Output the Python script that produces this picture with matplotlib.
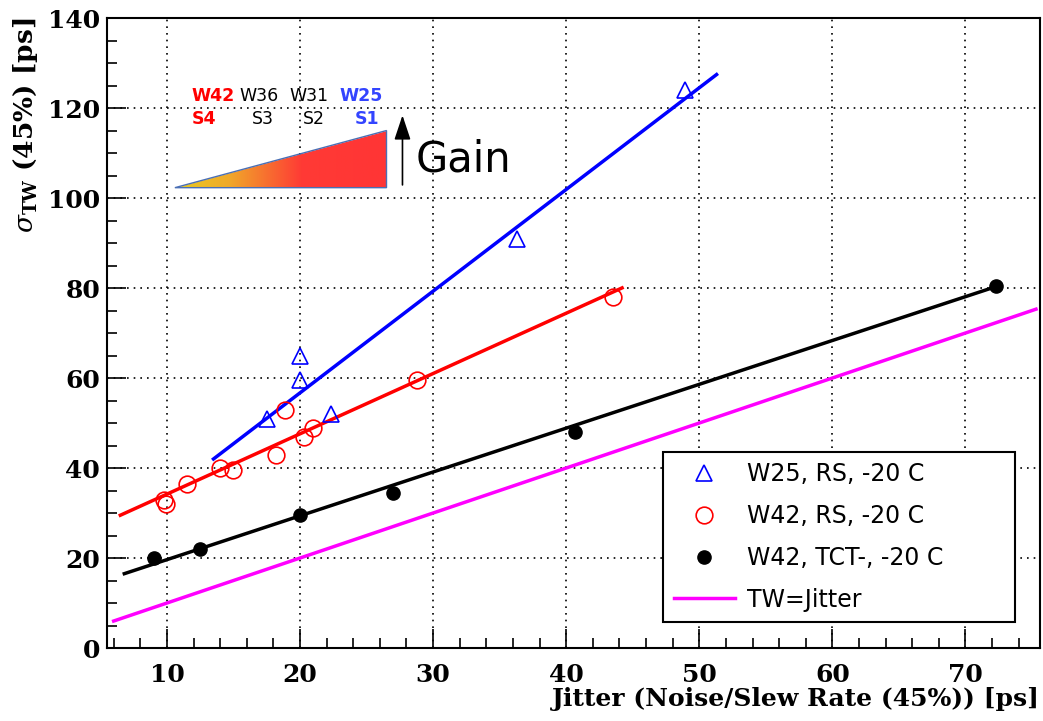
import numpy as np
import matplotlib.pyplot as plt
from matplotlib.ticker import MultipleLocator
from matplotlib.colors import LinearSegmentedColormap
from matplotlib.patches import Polygon

plt.rcParams['mathtext.fontset'] = 'dejavuserif'

# W25, RS, -20 C
w25_x = [17.5, 20.0, 20.0, 22.3, 36.3, 48.9]
w25_y = [51.0, 65.0, 59.5, 52.0, 91.0, 124.0]
# W42, RS, -20 C
w42rs_x = [9.8, 9.9, 11.5, 14.0, 15.0, 18.2, 18.9, 20.3, 21.0, 28.8, 43.5]
w42rs_y = [33.0, 32.0, 36.5, 40.0, 39.5, 43.0, 53.0, 47.0, 48.8, 59.5, 78.0]
# W42, TCT-, -20 C
w42tct_x = [9.0, 12.5, 20.0, 27.0, 40.7, 72.3]
w42tct_y = [20.0, 22.0, 29.5, 34.5, 48.0, 80.5]

# linear fits: (slope, offset, x range)
w25_fit = (2.26, 11.5, (13.5, 51.3))
w42rs_fit = (1.34, 20.8, (6.5, 44.2))
w42tct_fit = (0.974, 9.9, (6.8, 72.5))
tw_range = (6.0, 75.3)

AXFONT = 'DejaVu Serif'
TXTFONT = 'DejaVu Sans'

fig = plt.figure(figsize=(10.43, 7.21), dpi=100)
ax = fig.add_axes([0.1026, 0.1012, 0.8945, 0.8738])

def draw_fit(fit, color):
    k, b, (x0, x1) = fit
    xs = np.linspace(x0, x1, 50)
    ax.plot(xs, k * xs + b, color=color, lw=2.5, zorder=3)

draw_fit(w25_fit, 'blue')
draw_fit(w42rs_fit, 'red')
draw_fit(w42tct_fit, 'black')
xs = np.linspace(*tw_range, 50)
ax.plot(xs, xs, color='magenta', lw=2.5, zorder=3, label='TW=Jitter')

ax.plot(w25_x, w25_y, ls='none', marker='^', ms=12, mfc='none', mec='blue',
        mew=1.2, zorder=4, label='W25, RS, -20 C')
ax.plot(w42rs_x, w42rs_y, ls='none', marker='o', ms=12, mfc='none', mec='red',
        mew=1.2, zorder=4, label='W42, RS, -20 C')
ax.plot(w42tct_x, w42tct_y, ls='none', marker='o', ms=9.5, color='black',
        zorder=4, label='W42, TCT-, -20 C')

ax.set_xlim(5.5, 75.6)
ax.set_ylim(0, 140)
ax.xaxis.set_major_locator(MultipleLocator(10))
ax.xaxis.set_minor_locator(MultipleLocator(2))
ax.yaxis.set_major_locator(MultipleLocator(20))
ax.yaxis.set_minor_locator(MultipleLocator(5))
ax.tick_params(which='both', direction='in', top=False, right=False)
ax.tick_params(which='major', length=14, width=1.2)
ax.tick_params(which='minor', length=7, width=1.2)
ax.tick_params(axis='x', pad=11)
ax.tick_params(axis='y', pad=5)
for lab in ax.get_xticklabels() + ax.get_yticklabels():
    lab.set_fontfamily(AXFONT)
    lab.set_fontweight('bold')
    lab.set_fontsize(18)
for s in ax.spines.values():
    s.set_linewidth(1.5)
ax.grid(True, which='major', color='black', ls=(0, (1, 3)), lw=1.2)

ax.set_xlabel('Jitter (Noise/Slew Rate (45%)) [ps]', fontfamily=AXFONT,
              fontweight='bold', fontsize=18)
ax.xaxis.set_label_coords(1.0, -0.062)
ax.xaxis.label.set_horizontalalignment('right')
ax.xaxis.label.set_verticalalignment('top')
ax.set_ylabel(r'$\sigma_{\mathbf{TW}}$ (45%) [ps]', fontfamily=AXFONT,
              fontweight='bold', fontsize=19)
ax.yaxis.set_label_coords(-0.072, 1.0)
ax.yaxis.label.set_horizontalalignment('right')

# gain wedge with yellow-to-red fill
tri_x = [10.6, 26.5, 26.5]
tri_y = [102.3, 102.3, 115.0]
cmap = LinearSegmentedColormap.from_list(
    'gain', [(0.0, '#e8cc22'), (0.25, '#f0aa2a'), (0.6, '#ff3a35'), (1.0, '#ff3535')])
grad = np.linspace(0, 1, 256).reshape(1, -1)
img = ax.imshow(grad, cmap=cmap, aspect='auto', extent=(10.6, 26.5, 102.3, 115.0),
                zorder=2)
tri = Polygon(list(zip(tri_x, tri_y)), closed=True, fc='none', ec='#4a6fb5', lw=1.0,
              zorder=2)
ax.add_patch(tri)
img.set_clip_path(tri)

ax.annotate('', xy=(27.7, 119.0), xytext=(27.7, 102.3),
            arrowprops=dict(arrowstyle='-|>,head_length=1.5,head_width=0.5',
                            color='black', lw=1.2), zorder=5)
ax.text(28.7, 108.5, 'Gain', fontsize=30, fontfamily=TXTFONT,
        va='center', ha='left', zorder=5)

wafer_txt = [('W42', 11.88, 'red', 'bold'), ('W36', 15.48, 'black', 'normal'),
             ('W31', 19.23, 'black', 'normal'), ('W25', 22.98, '#3344ff', 'bold')]
for t, x, c, w in wafer_txt:
    ax.text(x, 122.7, t, color=c, fontweight=w, fontsize=12.5,
            fontfamily=TXTFONT, va='center', ha='left', zorder=5)
stage_txt = [('S4', 11.88, 'red', 'bold'), ('S3', 16.4, 'black', 'normal'),
             ('S2', 20.2, 'black', 'normal'), ('S1', 24.1, '#3344ff', 'bold')]
for t, x, c, w in stage_txt:
    ax.text(x, 117.6, t, color=c, fontweight=w, fontsize=12.5,
            fontfamily=TXTFONT, va='center', ha='left', zorder=5)

handles, labels = ax.get_legend_handles_labels()
order = [1, 2, 3, 0]
leg = ax.legend([handles[i] for i in order], [labels[i] for i in order],
                loc='lower left', bbox_to_anchor=(0.596, 0.041, 0.377, 0.265),
                mode='expand', fancybox=False, framealpha=1, edgecolor='black',
                prop={'family': TXTFONT, 'size': 17}, handlelength=2.6,
                borderpad=0.45, labelspacing=0.75, handletextpad=0.5,
                borderaxespad=0)
leg.get_frame().set_linewidth(1.5)
leg.set_zorder(6)

fig.savefig('out.png', dpi=100)
